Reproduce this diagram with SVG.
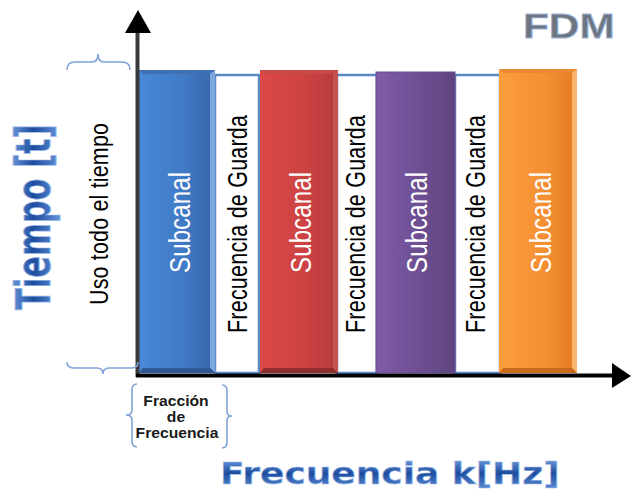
<svg xmlns="http://www.w3.org/2000/svg" width="631" height="502" viewBox="0 0 631 502">
<defs>
<linearGradient id="gBlue" x1="0" y1="0" x2="1" y2="0"><stop offset="0" stop-color="#4a8ad8"/><stop offset="0.6" stop-color="#4079c4"/><stop offset="1" stop-color="#3767a8"/></linearGradient>
<linearGradient id="gRed" x1="0" y1="0" x2="1" y2="0"><stop offset="0" stop-color="#dc4848"/><stop offset="0.6" stop-color="#cc4242"/><stop offset="1" stop-color="#b23a3a"/></linearGradient>
<linearGradient id="gPurple" x1="0" y1="0" x2="1" y2="0"><stop offset="0" stop-color="#7f5ca8"/><stop offset="1" stop-color="#5e4480"/></linearGradient>
<linearGradient id="gOrange" x1="0" y1="0" x2="1" y2="0"><stop offset="0" stop-color="#fc9e3c"/><stop offset="0.6" stop-color="#f48f32"/><stop offset="1" stop-color="#e27a22"/></linearGradient>
<linearGradient id="gLabel" x1="0" y1="0" x2="0" y2="1"><stop offset="0" stop-color="#7ea8e6"/><stop offset="0.5" stop-color="#1c4c9e"/><stop offset="1" stop-color="#6a98dc"/></linearGradient>
</defs>
<style>
.guard{fill:#fff;stroke:#5b8ac6;stroke-width:2.5}
.sub{font-family:"Liberation Sans",Arial,sans-serif;font-size:24px;fill:#fff;text-anchor:middle}
.gtxt{font-family:"Liberation Sans",Arial,sans-serif;font-size:21.5px;fill:#000;text-anchor:middle}
.brace{fill:none;stroke:#7fa3d6;stroke-width:1.6}
.big{font-family:"DejaVu Sans",Verdana,sans-serif;font-weight:bold;fill:url(#gLabel);stroke:#9dbbe8;stroke-width:0.6}
.frac{font-family:"Liberation Sans",Arial,sans-serif;font-weight:bold;font-size:14px;fill:#1a1a1a;text-anchor:middle}
</style>

<g id="guard1"><rect class="guard" x="215" y="75" width="44" height="298"/><text class="gtxt" transform="translate(247,224) scale(1.25,1) rotate(-90)" textLength="218">Frecuencia de Guarda</text></g>
<g id="guard2"><rect class="guard" x="337" y="75" width="40" height="298"/><text class="gtxt" transform="translate(365,224) scale(1.25,1) rotate(-90)" textLength="218">Frecuencia de Guarda</text></g>
<g id="guard3"><rect class="guard" x="455" y="75" width="45" height="298"/><text class="gtxt" transform="translate(485,224) scale(1.25,1) rotate(-90)" textLength="218">Frecuencia de Guarda</text></g>

<g id="sub1">
<rect x="139" y="70" width="76" height="303" fill="url(#gBlue)"/>
<polygon points="139,70 215,70 210,74 143,74" fill="#3d6fb2"/>
<polygon points="210,74 215,70 215,373 210,368" fill="#7ca6de"/>
<polygon points="143,368 210,368 215,373 139,373" fill="#2e5894"/>
<text class="sub" transform="translate(190,222.5) scale(1.25,1) rotate(-90)" textLength="101">Subcanal</text>
</g>
<g id="sub2">
<rect x="260" y="70" width="78" height="303" fill="url(#gRed)"/>
<polygon points="260,70 338,70 333,74 264,74" fill="#c94848"/>
<polygon points="333,74 338,70 338,373 333,368" fill="#c65252"/>
<polygon points="264,368 333,368 338,373 260,373" fill="#922d2d"/>
<text class="sub" transform="translate(311,222.5) scale(1.25,1) rotate(-90)" textLength="101">Subcanal</text>
</g>
<g id="sub3">
<rect x="376" y="72" width="79" height="301" fill="url(#gPurple)" stroke="#6a4f92" stroke-width="1"/>
<text class="sub" transform="translate(427,222.5) scale(1.25,1) rotate(-90)" textLength="101">Subcanal</text>
</g>
<g id="sub4">
<rect x="499" y="69" width="78" height="304" fill="url(#gOrange)"/>
<polygon points="499,69 577,69 572,73 503,73" fill="#e88a34"/>
<polygon points="572,73 577,69 577,373 572,368" fill="#f9b66e"/>
<polygon points="503,368 572,368 577,373 499,373" fill="#c86a1a"/>
<text class="sub" transform="translate(551,222.5) scale(1.25,1) rotate(-90)" textLength="101">Subcanal</text>
</g>

<g id="axes">
<line x1="137.5" y1="32" x2="137.5" y2="377" stroke="#3a3a3a" stroke-width="4"/>
<polygon points="138,10 151,33 125,33" fill="#000"/>
<line x1="136" y1="375.5" x2="613" y2="375.5" stroke="#000" stroke-width="4"/>
<polygon points="631,376 612,363 612,388" fill="#000"/>
</g>

<g id="braces">
<path class="brace" d="M67,70 Q67,62 75,62 L92,62 Q98,62 98,54 Q98,62 104,62 L122,62 Q130,62 130,70"/>
<path class="brace" d="M67,362 Q67,368 74,368 L97,368 Q103,368 103,374 Q103,368 109,368 L132,368 Q138,368 138,362"/>
<path class="brace" d="M137,384 Q132,384 132,390 L132,410 Q132,415 126,415 Q132,415 132,420 L132,441 Q132,447 137,447"/>
<path class="brace" d="M222,385 Q227,385 227,391 L227,411 Q227,416 232,416 Q227,416 227,421 L227,442 Q227,448 222,448"/>
</g>

<g id="labels">
<text font-family="'Liberation Sans',Arial,sans-serif" font-size="21.5" fill="#000" text-anchor="middle" transform="translate(108,214) scale(1.2,1) rotate(-90)" textLength="182">Uso todo el tiempo</text>
<text class="big" font-size="32" text-anchor="middle" transform="translate(50,217) scale(1.5,1) rotate(-90)" textLength="186">Tiempo [t]</text>
<text class="big" font-size="30" transform="translate(220,484) scale(1.2,1)" textLength="283">Frecuencia k[Hz]</text>
<text font-family="'Liberation Sans',Arial,sans-serif" font-weight="bold" font-size="35" fill="#6d7580" stroke="#9fb4d8" stroke-width="0.8" transform="translate(523,38) scale(1.21,1)">FDM</text>
<text class="frac" transform="translate(176,406) scale(1.12,1)">Fracción</text>
<text class="frac" transform="translate(176,422) scale(1.12,1)">de</text>
<text class="frac" transform="translate(177,438) scale(1.12,1)">Frecuencia</text>
</g>
</svg>
